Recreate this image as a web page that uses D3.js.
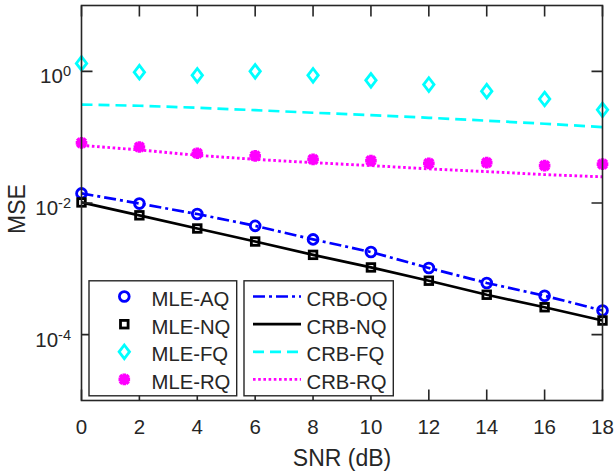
<!DOCTYPE html>
<html>
<head>
<meta charset="utf-8">
<script src="https://cdn.jsdelivr.net/npm/d3@7"></script>
<style>
  body { margin: 0; background: #fff; }
  text { font-family: Arial, "Liberation Sans", Helvetica, sans-serif; fill: #262626; }
</style>
</head>
<body>
<svg id="chart" width="615" height="475"></svg>
<script>
// data
var snr = [0, 2, 4, 6, 8, 10, 12, 14, 16, 18]
var mleAQ = [0.0140, 0.0098, 0.0068, 0.0045, 0.0028, 0.0018, 0.00103, 0.00061, 0.00039, 0.000233]
var mleNQ = [0.0102, 0.0065, 0.0041, 0.0026, 0.00163, 0.00105, 0.00066, 0.000404, 0.000261, 0.000164]
var mleFQ = [1.32, 0.97, 0.87, 1.0, 0.87, 0.73, 0.63, 0.50, 0.38, 0.26]
var mleRQ = [0.082, 0.071, 0.057, 0.052, 0.046, 0.044, 0.040, 0.041, 0.037, 0.039]
var crbOQ = [0.0140, 0.0098, 0.0068, 0.0045, 0.0028, 0.0018, 0.00103, 0.00061, 0.00039, 0.000233]
var crbNQ = [0.0102, 0.0065, 0.0041, 0.0026, 0.00163, 0.00105, 0.00066, 0.000404, 0.000261, 0.000164]
var crbFQ = [0.313, 0.300, 0.280, 0.257, 0.235, 0.216, 0.197, 0.178, 0.160, 0.142]
var crbRQ = [0.075, 0.064, 0.053, 0.046, 0.041, 0.037, 0.033, 0.030, 0.027, 0.025]
var xTicks = [0, 2, 4, 6, 8, 10, 12, 14, 16, 18]
var yTicks = [1e-4, 1e-2, 1e0]
var yExp = ["-4", "-2", "0"]

;(function () {
        "use strict";

        var svg = d3.select('#chart')
        var box = { left: 81.5, right: 602.5, top: 5.5, bottom: 400.5 }
        var axisColor = '#262626'

        var x = d3.scaleLinear().domain([0, 18]).range([box.left, box.right])
        var y = d3.scaleLog().domain([1e-5, 1e1]).range([box.bottom, box.top])

        // ---- lines (CRB) ----
        var lineSeries = [
                { name: 'CRB-OQ', values: crbOQ, color: '#0000ff', dash: '12,4,3,4', width: 2.7 },
                { name: 'CRB-NQ', values: crbNQ, color: '#000000', dash: null, width: 2.7 },
                { name: 'CRB-FQ', values: crbFQ, color: '#00ffff', dash: '11,6', width: 2.7 },
                { name: 'CRB-RQ', values: crbRQ, color: '#ff00ff', dash: '2.6,2.6', width: 2.9 }
        ]

        var line = d3.line()
                .x(function (d) { return x(d[0]) })
                .y(function (d) { return y(d[1]) })

        var plot = svg.append('g')

        lineSeries.forEach(function (s) {
                plot.append('path')
                        .datum(d3.zip(snr, s.values))
                        .attr('d', line)
                        .attr('fill', 'none')
                        .attr('stroke', s.color)
                        .attr('stroke-width', s.width)
                        .attr('stroke-dasharray', s.dash)
        })

        // ---- markers (MLE) ----
        function marker(g, kind, color) {
                if (kind === 'circle')
                        g.append('circle').attr('r', 4.9)
                                .attr('fill', 'none').attr('stroke', color).attr('stroke-width', 2.8)
                else if (kind === 'square')
                        g.append('rect').attr('x', -3.8).attr('y', -3.8).attr('width', 7.6).attr('height', 7.6)
                                .attr('fill', 'none').attr('stroke', color).attr('stroke-width', 2.8)
                else if (kind === 'diamond')
                        g.append('path').attr('d', 'M0,-6.8L5.2,0L0,6.8L-5.2,0Z')
                                .attr('fill', 'none').attr('stroke', color).attr('stroke-width', 2.8)
                else if (kind === 'star')
                        g.append('path').attr('d', 'M-5.8,0H5.8M0,-5.8V5.8M-4.3,-4.3L4.3,4.3M-4.3,4.3L4.3,-4.3')
                                .attr('fill', 'none').attr('stroke', color).attr('stroke-width', 3.6)
        }

        var markSeries = [
                { name: 'MLE-AQ', values: mleAQ, color: '#0000ff', kind: 'circle' },
                { name: 'MLE-NQ', values: mleNQ, color: '#000000', kind: 'square' },
                { name: 'MLE-FQ', values: mleFQ, color: '#00ffff', kind: 'diamond' },
                { name: 'MLE-RQ', values: mleRQ, color: '#ff00ff', kind: 'star' }
        ]

        markSeries.forEach(function (s) {
                plot.selectAll(null)
                        .data(d3.zip(snr, s.values))
                        .enter()
                        .append('g')
                        .attr('transform', function (d) { return 'translate(' + x(d[0]) + ',' + y(d[1]) + ')' })
                        .each(function () { marker(d3.select(this), s.kind, s.color) })
        })

        // ---- axes box and ticks ----
        var axes = svg.append('g')
        var tickLen = 11

        axes.selectAll(null)
                .data(xTicks)
                .enter()
                .append('path')
                .attr('d', function (d) {
                        return 'M' + x(d) + ',' + box.bottom + 'v' + (-tickLen) + 'M' + x(d) + ',' + box.top + 'v' + tickLen
                })
                .attr('stroke', axisColor).attr('stroke-width', 1.6)

        axes.selectAll(null)
                .data(yTicks)
                .enter()
                .append('path')
                .attr('d', function (d) {
                        return 'M' + box.left + ',' + y(d) + 'h' + tickLen + 'M' + box.right + ',' + y(d) + 'h' + (-tickLen)
                })
                .attr('stroke', axisColor).attr('stroke-width', 1.6)

        axes.append('rect')
                .attr('x', box.left).attr('y', box.top)
                .attr('width', box.right - box.left).attr('height', box.bottom - box.top)
                .attr('fill', 'none').attr('stroke', axisColor).attr('stroke-width', 1.6)

        axes.selectAll(null)
                .data(xTicks)
                .enter()
                .append('text')
                .attr('x', function (d) { return x(d) })
                .attr('y', 433.5)
                .attr('text-anchor', 'middle')
                .attr('font-size', 20.5)
                .text(function (d) { return d })

        var yl = axes.selectAll(null)
                .data(yTicks)
                .enter()
                .append('text')
                .attr('x', 71)
                .attr('y', function (d) { return y(d) + 12 })
                .attr('text-anchor', 'end')
                .attr('font-size', 20.5)

        yl.append('tspan').text('10')
        yl.append('tspan')
                .attr('dy', -7)
                .attr('font-size', 14.5)
                .text(function (d, i) { return yExp[i] })

        svg.append('text')
                .attr('x', (box.left + box.right) / 2)
                .attr('y', 466)
                .attr('text-anchor', 'middle')
                .attr('font-size', 23)
                .text('SNR (dB)')

        svg.append('text')
                .attr('transform', 'translate(25,209) rotate(-90)')
                .attr('text-anchor', 'middle')
                .attr('font-size', 23)
                .text('MSE')

        // ---- legends ----
        var rowY = [296.5, 324.2, 351.8, 379.4]

        var lg1 = svg.append('g')
        lg1.append('rect')
                .attr('x', 89).attr('y', 280.8).attr('width', 147.7).attr('height', 115)
                .attr('fill', '#fff').attr('stroke', axisColor).attr('stroke-width', 1.4)

        markSeries.forEach(function (s, i) {
                var g = lg1.append('g').attr('transform', 'translate(124.3,' + rowY[i] + ')')
                marker(g, s.kind, s.color)
                lg1.append('text')
                        .attr('x', 151.5).attr('y', rowY[i] + 9.5)
                        .attr('font-size', 20.3)
                        .text(s.name)
        })

        var lg2 = svg.append('g')
        lg2.append('rect')
                .attr('x', 244).attr('y', 280.8).attr('width', 149.3).attr('height', 115)
                .attr('fill', '#fff').attr('stroke', axisColor).attr('stroke-width', 1.4)

        lineSeries.forEach(function (s, i) {
                lg2.append('line')
                        .attr('x1', 253).attr('x2', 301)
                        .attr('y1', rowY[i]).attr('y2', rowY[i])
                        .attr('stroke', s.color)
                        .attr('stroke-width', s.width)
                        .attr('stroke-dasharray', s.dash)
                lg2.append('text')
                        .attr('x', 306.5).attr('y', rowY[i] + 9.5)
                        .attr('font-size', 20.3)
                        .text(s.name)
        })
})()
</script>
</body>
</html>
